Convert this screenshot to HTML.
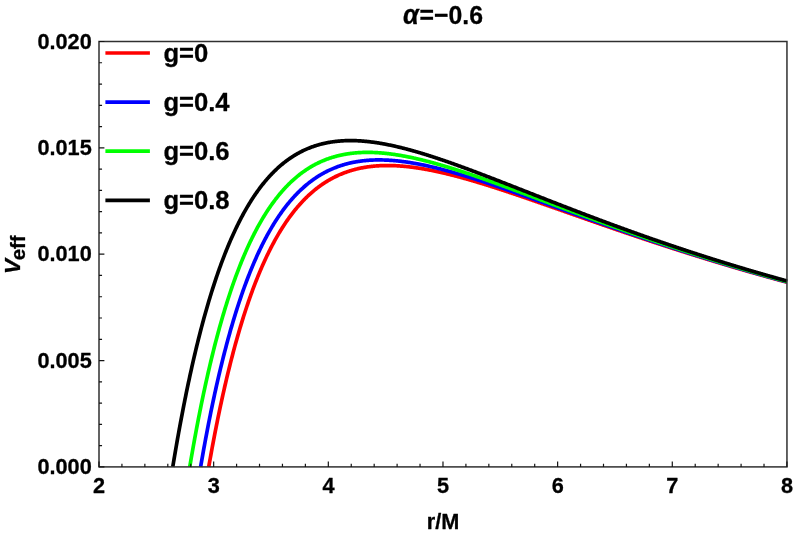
<!DOCTYPE html>
<html><head><meta charset="utf-8"><title>Veff plot</title>
<style>html,body{margin:0;padding:0;background:#fff;}body{width:793px;height:534px;position:relative;overflow:hidden;font-family:"Liberation Sans",sans-serif;}</style>
</head><body>
<svg width="793" height="534" viewBox="0 0 793 534" style="position:absolute;left:0;top:0;will-change:transform">
<rect width="793" height="534" fill="#fff"/>
<g fill="none" stroke-width="3.7" stroke-linejoin="round" stroke-linecap="butt">
<path d="M208.73 466.90 L209.07 464.94 L209.65 461.70 L210.22 458.48 L210.79 455.30 L211.37 452.15 L211.94 449.03 L212.51 445.94 L213.09 442.88 L213.66 439.85 L214.23 436.85 L214.80 433.88 L215.38 430.93 L215.95 428.02 L216.52 425.13 L217.10 422.27 L217.67 419.44 L218.24 416.64 L218.82 413.86 L219.39 411.11 L219.96 408.39 L220.54 405.69 L221.11 403.02 L221.68 400.37 L222.26 397.75 L222.83 395.16 L223.40 392.59 L223.98 390.05 L224.55 387.53 L225.12 385.03 L225.70 382.56 L226.27 380.12 L226.84 377.69 L227.42 375.29 L227.99 372.92 L228.56 370.56 L229.14 368.23 L229.71 365.93 L230.28 363.64 L230.86 361.38 L231.43 359.14 L232.00 356.92 L232.58 354.72 L233.15 352.54 L233.72 350.39 L234.30 348.25 L234.87 346.14 L235.44 344.05 L236.02 341.98 L236.59 339.93 L237.16 337.89 L237.74 335.88 L238.31 333.89 L238.88 331.92 L239.46 329.96 L240.03 328.03 L240.60 326.11 L241.18 324.22 L241.75 322.34 L242.32 320.48 L242.90 318.64 L243.47 316.82 L244.04 315.01 L244.62 313.22 L245.19 311.45 L245.76 309.70 L246.34 307.97 L246.91 306.25 L247.48 304.55 L248.06 302.86 L248.63 301.20 L249.20 299.54 L249.78 297.91 L250.35 296.29 L250.92 294.69 L251.50 293.10 L252.07 291.53 L252.64 289.98 L253.22 288.44 L253.79 286.92 L254.36 285.41 L254.94 283.91 L255.51 282.43 L256.08 280.97 L256.66 279.52 L257.23 278.09 L257.80 276.67 L258.38 275.26 L258.95 273.87 L259.52 272.49 L260.09 271.13 L260.67 269.78 L261.24 268.44 L261.81 267.12 L262.39 265.81 L262.96 264.51 L263.53 263.23 L264.11 261.96 L264.68 260.70 L265.25 259.46 L265.83 258.23 L266.40 257.01 L266.97 255.80 L267.55 254.61 L268.12 253.43 L268.69 252.26 L269.27 251.10 L269.84 249.96 L270.41 248.82 L270.99 247.70 L271.56 246.59 L272.13 245.49 L272.71 244.41 L273.28 243.33 L273.85 242.27 L274.43 241.21 L275.00 240.17 L275.57 239.14 L276.15 238.12 L276.72 237.11 L277.29 236.11 L277.87 235.12 L278.44 234.14 L279.01 233.18 L279.59 232.22 L280.16 231.27 L280.73 230.33 L281.31 229.41 L281.88 228.49 L282.45 227.58 L283.03 226.69 L283.60 225.80 L284.17 224.92 L284.75 224.05 L285.32 223.19 L285.89 222.34 L286.47 221.50 L287.04 220.67 L287.61 219.85 L288.19 219.03 L288.76 218.23 L289.33 217.43 L289.91 216.65 L290.48 215.87 L291.05 215.10 L291.63 214.34 L292.20 213.59 L292.77 212.84 L293.35 212.11 L293.92 211.38 L294.49 210.66 L295.07 209.95 L295.64 209.25 L296.21 208.55 L296.79 207.86 L297.36 207.18 L297.93 206.51 L298.51 205.85 L299.08 205.19 L299.65 204.55 L300.23 203.90 L300.80 203.27 L301.37 202.65 L301.95 202.03 L302.52 201.42 L303.09 200.81 L303.67 200.21 L304.24 199.62 L304.81 199.04 L305.38 198.47 L305.96 197.90 L306.53 197.33 L307.10 196.78 L307.68 196.23 L308.25 195.69 L308.82 195.15 L309.40 194.62 L309.97 194.10 L310.54 193.59 L311.12 193.08 L311.69 192.57 L312.26 192.08 L312.84 191.58 L313.41 191.10 L313.98 190.62 L314.56 190.15 L315.13 189.68 L315.70 189.22 L316.28 188.77 L316.85 188.32 L317.42 187.88 L318.00 187.44 L318.57 187.01 L319.14 186.58 L319.72 186.16 L320.29 185.75 L320.86 185.34 L321.44 184.94 L322.01 184.54 L322.58 184.15 L323.16 183.76 L323.73 183.38 L324.30 183.00 L324.88 182.63 L325.45 182.26 L326.02 181.90 L326.60 181.55 L327.17 181.20 L327.74 180.85 L328.32 180.51 L328.89 180.17 L329.46 179.84 L330.04 179.52 L330.61 179.19 L331.18 178.88 L331.76 178.57 L332.33 178.26 L332.90 177.96 L333.48 177.66 L334.05 177.36 L334.62 177.07 L335.20 176.79 L335.77 176.51 L336.34 176.23 L336.92 175.96 L337.49 175.70 L338.06 175.43 L338.64 175.17 L339.21 174.92 L339.78 174.67 L340.36 174.42 L340.93 174.18 L341.50 173.94 L342.08 173.71 L342.65 173.48 L343.22 173.25 L343.80 173.03 L344.37 172.81 L344.94 172.60 L345.52 172.39 L346.09 172.18 L346.66 171.98 L347.24 171.78 L347.81 171.59 L348.38 171.40 L348.96 171.21 L349.53 171.02 L350.10 170.84 L350.68 170.67 L351.25 170.49 L351.82 170.32 L352.39 170.16 L352.97 169.99 L353.54 169.83 L354.11 169.68 L354.69 169.52 L355.26 169.37 L355.83 169.23 L356.41 169.08 L356.98 168.94 L357.55 168.81 L358.13 168.67 L358.70 168.54 L359.27 168.42 L359.85 168.29 L360.42 168.17 L360.99 168.05 L361.57 167.94 L362.14 167.83 L362.71 167.72 L363.29 167.61 L363.86 167.51 L364.43 167.41 L365.01 167.31 L365.58 167.22 L366.15 167.13 L366.73 167.04 L367.30 166.95 L367.87 166.87 L368.45 166.79 L369.02 166.71 L369.59 166.64 L370.17 166.56 L370.74 166.50 L371.31 166.43 L371.89 166.36 L372.46 166.30 L373.03 166.24 L373.61 166.19 L374.18 166.13 L374.75 166.08 L375.33 166.03 L375.90 165.98 L376.47 165.94 L377.05 165.90 L377.62 165.86 L378.19 165.82 L378.77 165.79 L379.34 165.75 L379.91 165.72 L380.49 165.70 L381.06 165.67 L381.63 165.65 L382.21 165.63 L382.78 165.61 L383.35 165.59 L383.93 165.58 L384.50 165.56 L385.07 165.55 L385.65 165.55 L386.22 165.54 L386.79 165.54 L387.37 165.54 L387.94 165.54 L388.51 165.54 L389.09 165.54 L389.66 165.55 L390.23 165.56 L390.81 165.57 L391.38 165.58 L391.95 165.59 L392.53 165.61 L393.10 165.63 L393.67 165.65 L394.25 165.67 L394.82 165.69 L395.39 165.72 L395.97 165.75 L396.54 165.77 L397.11 165.81 L397.68 165.84 L398.26 165.87 L398.83 165.91 L399.40 165.95 L399.98 165.99 L400.55 166.03 L401.12 166.07 L401.70 166.12 L402.27 166.16 L402.84 166.21 L403.42 166.26 L403.99 166.31 L404.56 166.36 L405.14 166.42 L405.71 166.47 L406.28 166.53 L406.86 166.59 L407.43 166.65 L408.00 166.71 L408.58 166.78 L409.15 166.84 L409.72 166.91 L410.30 166.97 L410.87 167.04 L411.44 167.11 L412.02 167.19 L412.59 167.26 L413.16 167.34 L413.74 167.41 L414.31 167.49 L414.88 167.57 L415.46 167.65 L416.03 167.73 L416.60 167.82 L417.18 167.90 L417.75 167.99 L418.32 168.07 L418.90 168.16 L419.47 168.25 L420.04 168.34 L420.62 168.43 L421.19 168.53 L421.76 168.62 L422.34 168.72 L422.91 168.81 L423.48 168.91 L424.06 169.01 L424.63 169.11 L425.20 169.21 L425.78 169.32 L426.35 169.42 L426.92 169.53 L427.50 169.63 L428.07 169.74 L428.64 169.85 L429.22 169.96 L429.79 170.07 L430.36 170.18 L430.94 170.29 L431.51 170.41 L432.08 170.52 L432.66 170.64 L433.23 170.76 L433.80 170.87 L434.38 170.99 L434.95 171.11 L435.52 171.23 L436.10 171.36 L436.67 171.48 L437.24 171.60 L437.82 171.73 L438.39 171.85 L438.96 171.98 L439.54 172.11 L440.11 172.23 L440.68 172.36 L441.26 172.49 L441.83 172.63 L442.40 172.76 L442.98 172.89 L443.55 173.02 L444.12 173.16 L444.69 173.29 L445.27 173.43 L445.84 173.57 L446.41 173.71 L446.99 173.84 L447.56 173.98 L448.13 174.12 L448.71 174.27 L449.28 174.41 L449.85 174.55 L450.43 174.69 L451.00 174.84 L451.57 174.98 L452.15 175.13 L452.72 175.28 L453.29 175.42 L453.87 175.57 L454.44 175.72 L455.01 175.87 L455.59 176.02 L456.16 176.17 L456.73 176.32 L457.31 176.47 L457.88 176.63 L458.45 176.78 L459.03 176.93 L459.60 177.09 L460.17 177.24 L460.75 177.40 L461.32 177.56 L461.89 177.71 L462.47 177.87 L463.04 178.03 L463.61 178.19 L464.19 178.35 L464.76 178.51 L465.33 178.67 L465.91 178.83 L466.48 178.99 L467.05 179.16 L467.63 179.32 L468.20 179.48 L468.77 179.65 L469.35 179.81 L469.92 179.98 L470.49 180.15 L471.07 180.31 L471.64 180.48 L472.21 180.65 L472.79 180.81 L473.36 180.98 L473.93 181.15 L474.51 181.32 L475.08 181.49 L475.65 181.66 L476.23 181.83 L476.80 182.01 L477.37 182.18 L477.95 182.35 L478.52 182.52 L479.09 182.70 L479.67 182.87 L480.24 183.05 L480.81 183.22 L481.39 183.40 L481.96 183.57 L482.53 183.75 L483.11 183.92 L483.68 184.10 L484.25 184.28 L484.83 184.46 L485.40 184.63 L485.97 184.81 L486.55 184.99 L487.12 185.17 L487.69 185.35 L488.27 185.53 L488.84 185.71 L489.41 185.89 L489.98 186.07 L490.56 186.26 L491.13 186.44 L491.70 186.62 L492.28 186.80 L492.85 186.99 L493.42 187.17 L494.00 187.35 L494.57 187.54 L495.14 187.72 L495.72 187.91 L496.29 188.09 L496.86 188.28 L497.44 188.46 L498.01 188.65 L498.58 188.83 L499.16 189.02 L499.73 189.21 L500.30 189.40 L500.88 189.58 L501.45 189.77 L502.02 189.96 L502.60 190.15 L503.17 190.34 L503.74 190.52 L504.32 190.71 L504.89 190.90 L505.46 191.09 L506.04 191.28 L506.61 191.47 L507.18 191.66 L507.76 191.85 L508.33 192.04 L508.90 192.24 L509.48 192.43 L510.05 192.62 L510.62 192.81 L511.20 193.00 L511.77 193.20 L512.34 193.39 L512.92 193.58 L513.49 193.77 L514.06 193.97 L514.64 194.16 L515.21 194.35 L515.78 194.55 L516.36 194.74 L516.93 194.94 L517.50 195.13 L518.08 195.32 L518.65 195.52 L519.22 195.71 L519.80 195.91 L520.37 196.11 L520.94 196.30 L521.52 196.50 L522.09 196.69 L522.66 196.89 L523.24 197.08 L523.81 197.28 L524.38 197.48 L524.96 197.67 L525.53 197.87 L526.10 198.07 L526.68 198.26 L527.25 198.46 L527.82 198.66 L528.40 198.86 L528.97 199.05 L529.54 199.25 L530.12 199.45 L530.69 199.65 L531.26 199.85 L531.84 200.04 L532.41 200.24 L532.98 200.44 L533.56 200.64 L534.13 200.84 L534.70 201.04 L535.27 201.24 L535.85 201.44 L536.42 201.63 L536.99 201.83 L537.57 202.03 L538.14 202.23 L538.71 202.43 L539.29 202.63 L539.86 202.83 L540.43 203.03 L541.01 203.23 L541.58 203.43 L542.15 203.63 L542.73 203.83 L543.30 204.03 L543.87 204.23 L544.45 204.43 L545.02 204.63 L545.59 204.83 L546.17 205.03 L546.74 205.23 L547.31 205.43 L547.89 205.64 L548.46 205.84 L549.03 206.04 L549.61 206.24 L550.18 206.44 L550.75 206.64 L551.33 206.84 L551.90 207.04 L552.47 207.24 L553.05 207.44 L553.62 207.65 L554.19 207.85 L554.77 208.05 L555.34 208.25 L555.91 208.45 L556.49 208.65 L557.06 208.85 L557.63 209.06 L558.21 209.26 L558.78 209.46 L559.35 209.66 L559.93 209.86 L560.50 210.06 L561.07 210.26 L561.65 210.47 L562.22 210.67 L562.79 210.87 L563.37 211.07 L563.94 211.27 L564.51 211.47 L565.09 211.68 L565.66 211.88 L566.23 212.08 L566.81 212.28 L567.38 212.48 L567.95 212.68 L568.53 212.89 L569.10 213.09 L569.67 213.29 L570.25 213.49 L570.82 213.69 L571.39 213.89 L571.97 214.10 L572.54 214.30 L573.11 214.50 L573.69 214.70 L574.26 214.90 L574.83 215.10 L575.41 215.31 L575.98 215.51 L576.55 215.71 L577.13 215.91 L577.70 216.11 L578.27 216.31 L578.85 216.51 L579.42 216.72 L579.99 216.92 L580.57 217.12 L581.14 217.32 L581.71 217.52 L582.28 217.72 L582.86 217.92 L583.43 218.12 L584.00 218.33 L584.58 218.53 L585.15 218.73 L585.72 218.93 L586.30 219.13 L586.87 219.33 L587.44 219.53 L588.02 219.73 L588.59 219.93 L589.16 220.13 L589.74 220.33 L590.31 220.53 L590.88 220.73 L591.46 220.93 L592.03 221.14 L592.60 221.34 L593.18 221.54 L593.75 221.74 L594.32 221.94 L594.90 222.14 L595.47 222.34 L596.04 222.54 L596.62 222.74 L597.19 222.94 L597.76 223.14 L598.34 223.34 L598.91 223.53 L599.48 223.73 L600.06 223.93 L600.63 224.13 L601.20 224.33 L601.78 224.53 L602.35 224.73 L602.92 224.93 L603.50 225.13 L604.07 225.33 L604.64 225.53 L605.22 225.73 L605.79 225.92 L606.36 226.12 L606.94 226.32 L607.51 226.52 L608.08 226.72 L608.66 226.92 L609.23 227.12 L609.80 227.31 L610.38 227.51 L610.95 227.71 L611.52 227.91 L612.10 228.10 L612.67 228.30 L613.24 228.50 L613.82 228.70 L614.39 228.90 L614.96 229.09 L615.54 229.29 L616.11 229.49 L616.68 229.68 L617.26 229.88 L617.83 230.08 L618.40 230.27 L618.98 230.47 L619.55 230.67 L620.12 230.86 L620.70 231.06 L621.27 231.26 L621.84 231.45 L622.42 231.65 L622.99 231.84 L623.56 232.04 L624.14 232.24 L624.71 232.43 L625.28 232.63 L625.86 232.82 L626.43 233.02 L627.00 233.21 L627.57 233.41 L628.15 233.60 L628.72 233.80 L629.29 233.99 L629.87 234.19 L630.44 234.38 L631.01 234.58 L631.59 234.77 L632.16 234.97 L632.73 235.16 L633.31 235.35 L633.88 235.55 L634.45 235.74 L635.03 235.93 L635.60 236.13 L636.17 236.32 L636.75 236.51 L637.32 236.71 L637.89 236.90 L638.47 237.09 L639.04 237.29 L639.61 237.48 L640.19 237.67 L640.76 237.86 L641.33 238.06 L641.91 238.25 L642.48 238.44 L643.05 238.63 L643.63 238.82 L644.20 239.02 L644.77 239.21 L645.35 239.40 L645.92 239.59 L646.49 239.78 L647.07 239.97 L647.64 240.16 L648.21 240.36 L648.79 240.55 L649.36 240.74 L649.93 240.93 L650.51 241.12 L651.08 241.31 L651.65 241.50 L652.23 241.69 L652.80 241.88 L653.37 242.07 L653.95 242.26 L654.52 242.45 L655.09 242.63 L655.67 242.82 L656.24 243.01 L656.81 243.20 L657.39 243.39 L657.96 243.58 L658.53 243.77 L659.11 243.96 L659.68 244.14 L660.25 244.33 L660.83 244.52 L661.40 244.71 L661.97 244.90 L662.55 245.08 L663.12 245.27 L663.69 245.46 L664.27 245.64 L664.84 245.83 L665.41 246.02 L665.99 246.21 L666.56 246.39 L667.13 246.58 L667.71 246.76 L668.28 246.95 L668.85 247.14 L669.43 247.32 L670.00 247.51 L670.57 247.69 L671.15 247.88 L671.72 248.06 L672.29 248.25 L672.86 248.43 L673.44 248.62 L674.01 248.80 L674.58 248.99 L675.16 249.17 L675.73 249.36 L676.30 249.54 L676.88 249.73 L677.45 249.91 L678.02 250.09 L678.60 250.28 L679.17 250.46 L679.74 250.64 L680.32 250.83 L680.89 251.01 L681.46 251.19 L682.04 251.37 L682.61 251.56 L683.18 251.74 L683.76 251.92 L684.33 252.10 L684.90 252.29 L685.48 252.47 L686.05 252.65 L686.62 252.83 L687.20 253.01 L687.77 253.19 L688.34 253.37 L688.92 253.55 L689.49 253.74 L690.06 253.92 L690.64 254.10 L691.21 254.28 L691.78 254.46 L692.36 254.64 L692.93 254.82 L693.50 255.00 L694.08 255.18 L694.65 255.36 L695.22 255.53 L695.80 255.71 L696.37 255.89 L696.94 256.07 L697.52 256.25 L698.09 256.43 L698.66 256.61 L699.24 256.79 L699.81 256.96 L700.38 257.14 L700.96 257.32 L701.53 257.50 L702.10 257.67 L702.68 257.85 L703.25 258.03 L703.82 258.21 L704.40 258.38 L704.97 258.56 L705.54 258.74 L706.12 258.91 L706.69 259.09 L707.26 259.26 L707.84 259.44 L708.41 259.62 L708.98 259.79 L709.56 259.97 L710.13 260.14 L710.70 260.32 L711.28 260.49 L711.85 260.67 L712.42 260.84 L713.00 261.02 L713.57 261.19 L714.14 261.36 L714.72 261.54 L715.29 261.71 L715.86 261.89 L716.44 262.06 L717.01 262.23 L717.58 262.41 L718.16 262.58 L718.73 262.75 L719.30 262.92 L719.87 263.10 L720.45 263.27 L721.02 263.44 L721.59 263.61 L722.17 263.79 L722.74 263.96 L723.31 264.13 L723.89 264.30 L724.46 264.47 L725.03 264.64 L725.61 264.81 L726.18 264.99 L726.75 265.16 L727.33 265.33 L727.90 265.50 L728.47 265.67 L729.05 265.84 L729.62 266.01 L730.19 266.18 L730.77 266.35 L731.34 266.52 L731.91 266.69 L732.49 266.85 L733.06 267.02 L733.63 267.19 L734.21 267.36 L734.78 267.53 L735.35 267.70 L735.93 267.87 L736.50 268.03 L737.07 268.20 L737.65 268.37 L738.22 268.54 L738.79 268.70 L739.37 268.87 L739.94 269.04 L740.51 269.21 L741.09 269.37 L741.66 269.54 L742.23 269.71 L742.81 269.87 L743.38 270.04 L743.95 270.20 L744.53 270.37 L745.10 270.54 L745.67 270.70 L746.25 270.87 L746.82 271.03 L747.39 271.20 L747.97 271.36 L748.54 271.53 L749.11 271.69 L749.69 271.86 L750.26 272.02 L750.83 272.18 L751.41 272.35 L751.98 272.51 L752.55 272.68 L753.13 272.84 L753.70 273.00 L754.27 273.17 L754.85 273.33 L755.42 273.49 L755.99 273.65 L756.57 273.82 L757.14 273.98 L757.71 274.14 L758.29 274.30 L758.86 274.47 L759.43 274.63 L760.01 274.79 L760.58 274.95 L761.15 275.11 L761.73 275.27 L762.30 275.43 L762.87 275.59 L763.45 275.75 L764.02 275.92 L764.59 276.08 L765.16 276.24 L765.74 276.40 L766.31 276.56 L766.88 276.72 L767.46 276.88 L768.03 277.03 L768.60 277.19 L769.18 277.35 L769.75 277.51 L770.32 277.67 L770.90 277.83 L771.47 277.99 L772.04 278.15 L772.62 278.30 L773.19 278.46 L773.76 278.62 L774.34 278.78 L774.91 278.93 L775.48 279.09 L776.06 279.25 L776.63 279.41 L777.20 279.56 L777.78 279.72 L778.35 279.88 L778.92 280.03 L779.50 280.19 L780.07 280.35 L780.64 280.50 L781.22 280.66 L781.79 280.81 L782.36 280.97 L782.94 281.12 L783.51 281.28 L784.08 281.43 L784.66 281.59 L785.23 281.74 L785.80 281.90 L786.38 282.05 L786.95 282.21" stroke="#ff0000"/>
<path d="M200.61 466.90 L201.05 464.37 L201.62 461.07 L202.19 457.81 L202.77 454.58 L203.34 451.38 L203.91 448.20 L204.49 445.07 L205.06 441.96 L205.63 438.88 L206.21 435.83 L206.78 432.81 L207.35 429.81 L207.93 426.85 L208.50 423.92 L209.07 421.01 L209.65 418.13 L210.22 415.28 L210.79 412.46 L211.37 409.67 L211.94 406.90 L212.51 404.15 L213.09 401.44 L213.66 398.75 L214.23 396.09 L214.80 393.45 L215.38 390.84 L215.95 388.25 L216.52 385.69 L217.10 383.15 L217.67 380.64 L218.24 378.15 L218.82 375.68 L219.39 373.24 L219.96 370.83 L220.54 368.43 L221.11 366.06 L221.68 363.71 L222.26 361.39 L222.83 359.09 L223.40 356.81 L223.98 354.55 L224.55 352.31 L225.12 350.10 L225.70 347.91 L226.27 345.74 L226.84 343.59 L227.42 341.46 L227.99 339.35 L228.56 337.26 L229.14 335.19 L229.71 333.14 L230.28 331.12 L230.86 329.11 L231.43 327.12 L232.00 325.15 L232.58 323.20 L233.15 321.27 L233.72 319.36 L234.30 317.47 L234.87 315.59 L235.44 313.74 L236.02 311.90 L236.59 310.08 L237.16 308.28 L237.74 306.50 L238.31 304.73 L238.88 302.98 L239.46 301.25 L240.03 299.54 L240.60 297.84 L241.18 296.16 L241.75 294.49 L242.32 292.85 L242.90 291.21 L243.47 289.60 L244.04 288.00 L244.62 286.42 L245.19 284.85 L245.76 283.30 L246.34 281.76 L246.91 280.24 L247.48 278.74 L248.06 277.25 L248.63 275.77 L249.20 274.31 L249.78 272.86 L250.35 271.43 L250.92 270.01 L251.50 268.61 L252.07 267.22 L252.64 265.85 L253.22 264.49 L253.79 263.14 L254.36 261.81 L254.94 260.49 L255.51 259.18 L256.08 257.89 L256.66 256.61 L257.23 255.34 L257.80 254.09 L258.38 252.85 L258.95 251.62 L259.52 250.40 L260.09 249.20 L260.67 248.01 L261.24 246.83 L261.81 245.67 L262.39 244.51 L262.96 243.37 L263.53 242.24 L264.11 241.12 L264.68 240.01 L265.25 238.92 L265.83 237.83 L266.40 236.76 L266.97 235.70 L267.55 234.65 L268.12 233.61 L268.69 232.58 L269.27 231.56 L269.84 230.56 L270.41 229.56 L270.99 228.58 L271.56 227.60 L272.13 226.64 L272.71 225.68 L273.28 224.74 L273.85 223.81 L274.43 222.88 L275.00 221.97 L275.57 221.06 L276.15 220.17 L276.72 219.29 L277.29 218.41 L277.87 217.54 L278.44 216.69 L279.01 215.84 L279.59 215.01 L280.16 214.18 L280.73 213.36 L281.31 212.55 L281.88 211.75 L282.45 210.96 L283.03 210.17 L283.60 209.40 L284.17 208.63 L284.75 207.87 L285.32 207.13 L285.89 206.39 L286.47 205.65 L287.04 204.93 L287.61 204.21 L288.19 203.51 L288.76 202.81 L289.33 202.12 L289.91 201.43 L290.48 200.76 L291.05 200.09 L291.63 199.43 L292.20 198.78 L292.77 198.13 L293.35 197.50 L293.92 196.87 L294.49 196.25 L295.07 195.63 L295.64 195.02 L296.21 194.42 L296.79 193.83 L297.36 193.25 L297.93 192.67 L298.51 192.09 L299.08 191.53 L299.65 190.97 L300.23 190.42 L300.80 189.88 L301.37 189.34 L301.95 188.81 L302.52 188.28 L303.09 187.76 L303.67 187.25 L304.24 186.75 L304.81 186.25 L305.38 185.76 L305.96 185.27 L306.53 184.79 L307.10 184.32 L307.68 183.85 L308.25 183.39 L308.82 182.93 L309.40 182.48 L309.97 182.04 L310.54 181.60 L311.12 181.17 L311.69 180.74 L312.26 180.32 L312.84 179.90 L313.41 179.49 L313.98 179.09 L314.56 178.69 L315.13 178.30 L315.70 177.91 L316.28 177.53 L316.85 177.15 L317.42 176.78 L318.00 176.41 L318.57 176.05 L319.14 175.70 L319.72 175.34 L320.29 175.00 L320.86 174.66 L321.44 174.32 L322.01 173.99 L322.58 173.66 L323.16 173.34 L323.73 173.03 L324.30 172.72 L324.88 172.41 L325.45 172.11 L326.02 171.81 L326.60 171.51 L327.17 171.23 L327.74 170.94 L328.32 170.66 L328.89 170.39 L329.46 170.12 L330.04 169.85 L330.61 169.59 L331.18 169.33 L331.76 169.08 L332.33 168.83 L332.90 168.58 L333.48 168.34 L334.05 168.11 L334.62 167.87 L335.20 167.65 L335.77 167.42 L336.34 167.20 L336.92 166.98 L337.49 166.77 L338.06 166.56 L338.64 166.36 L339.21 166.16 L339.78 165.96 L340.36 165.77 L340.93 165.58 L341.50 165.39 L342.08 165.21 L342.65 165.03 L343.22 164.86 L343.80 164.68 L344.37 164.52 L344.94 164.35 L345.52 164.19 L346.09 164.03 L346.66 163.88 L347.24 163.73 L347.81 163.58 L348.38 163.44 L348.96 163.30 L349.53 163.16 L350.10 163.03 L350.68 162.90 L351.25 162.77 L351.82 162.64 L352.39 162.52 L352.97 162.40 L353.54 162.29 L354.11 162.18 L354.69 162.07 L355.26 161.96 L355.83 161.86 L356.41 161.76 L356.98 161.66 L357.55 161.57 L358.13 161.48 L358.70 161.39 L359.27 161.30 L359.85 161.22 L360.42 161.14 L360.99 161.06 L361.57 160.99 L362.14 160.92 L362.71 160.85 L363.29 160.78 L363.86 160.72 L364.43 160.66 L365.01 160.60 L365.58 160.54 L366.15 160.49 L366.73 160.44 L367.30 160.39 L367.87 160.35 L368.45 160.30 L369.02 160.26 L369.59 160.22 L370.17 160.19 L370.74 160.16 L371.31 160.12 L371.89 160.10 L372.46 160.07 L373.03 160.05 L373.61 160.02 L374.18 160.00 L374.75 159.99 L375.33 159.97 L375.90 159.96 L376.47 159.95 L377.05 159.94 L377.62 159.94 L378.19 159.93 L378.77 159.93 L379.34 159.93 L379.91 159.93 L380.49 159.94 L381.06 159.94 L381.63 159.95 L382.21 159.96 L382.78 159.98 L383.35 159.99 L383.93 160.01 L384.50 160.03 L385.07 160.05 L385.65 160.07 L386.22 160.09 L386.79 160.12 L387.37 160.15 L387.94 160.18 L388.51 160.21 L389.09 160.24 L389.66 160.28 L390.23 160.31 L390.81 160.35 L391.38 160.39 L391.95 160.44 L392.53 160.48 L393.10 160.53 L393.67 160.57 L394.25 160.62 L394.82 160.67 L395.39 160.73 L395.97 160.78 L396.54 160.84 L397.11 160.90 L397.68 160.95 L398.26 161.01 L398.83 161.08 L399.40 161.14 L399.98 161.21 L400.55 161.27 L401.12 161.34 L401.70 161.41 L402.27 161.48 L402.84 161.56 L403.42 161.63 L403.99 161.71 L404.56 161.78 L405.14 161.86 L405.71 161.94 L406.28 162.02 L406.86 162.11 L407.43 162.19 L408.00 162.28 L408.58 162.36 L409.15 162.45 L409.72 162.54 L410.30 162.63 L410.87 162.72 L411.44 162.82 L412.02 162.91 L412.59 163.01 L413.16 163.11 L413.74 163.21 L414.31 163.31 L414.88 163.41 L415.46 163.51 L416.03 163.61 L416.60 163.72 L417.18 163.82 L417.75 163.93 L418.32 164.04 L418.90 164.15 L419.47 164.26 L420.04 164.37 L420.62 164.48 L421.19 164.60 L421.76 164.71 L422.34 164.83 L422.91 164.94 L423.48 165.06 L424.06 165.18 L424.63 165.30 L425.20 165.42 L425.78 165.55 L426.35 165.67 L426.92 165.79 L427.50 165.92 L428.07 166.04 L428.64 166.17 L429.22 166.30 L429.79 166.43 L430.36 166.56 L430.94 166.69 L431.51 166.82 L432.08 166.96 L432.66 167.09 L433.23 167.23 L433.80 167.36 L434.38 167.50 L434.95 167.64 L435.52 167.77 L436.10 167.91 L436.67 168.05 L437.24 168.19 L437.82 168.34 L438.39 168.48 L438.96 168.62 L439.54 168.77 L440.11 168.91 L440.68 169.06 L441.26 169.20 L441.83 169.35 L442.40 169.50 L442.98 169.65 L443.55 169.80 L444.12 169.95 L444.69 170.10 L445.27 170.25 L445.84 170.41 L446.41 170.56 L446.99 170.71 L447.56 170.87 L448.13 171.02 L448.71 171.18 L449.28 171.34 L449.85 171.50 L450.43 171.65 L451.00 171.81 L451.57 171.97 L452.15 172.13 L452.72 172.30 L453.29 172.46 L453.87 172.62 L454.44 172.78 L455.01 172.95 L455.59 173.11 L456.16 173.28 L456.73 173.44 L457.31 173.61 L457.88 173.77 L458.45 173.94 L459.03 174.11 L459.60 174.28 L460.17 174.45 L460.75 174.62 L461.32 174.79 L461.89 174.96 L462.47 175.13 L463.04 175.30 L463.61 175.47 L464.19 175.64 L464.76 175.82 L465.33 175.99 L465.91 176.17 L466.48 176.34 L467.05 176.52 L467.63 176.69 L468.20 176.87 L468.77 177.05 L469.35 177.22 L469.92 177.40 L470.49 177.58 L471.07 177.76 L471.64 177.94 L472.21 178.12 L472.79 178.30 L473.36 178.48 L473.93 178.66 L474.51 178.84 L475.08 179.02 L475.65 179.20 L476.23 179.39 L476.80 179.57 L477.37 179.75 L477.95 179.94 L478.52 180.12 L479.09 180.31 L479.67 180.49 L480.24 180.68 L480.81 180.86 L481.39 181.05 L481.96 181.24 L482.53 181.42 L483.11 181.61 L483.68 181.80 L484.25 181.99 L484.83 182.17 L485.40 182.36 L485.97 182.55 L486.55 182.74 L487.12 182.93 L487.69 183.12 L488.27 183.31 L488.84 183.50 L489.41 183.69 L489.98 183.89 L490.56 184.08 L491.13 184.27 L491.70 184.46 L492.28 184.65 L492.85 184.85 L493.42 185.04 L494.00 185.23 L494.57 185.43 L495.14 185.62 L495.72 185.82 L496.29 186.01 L496.86 186.21 L497.44 186.40 L498.01 186.60 L498.58 186.79 L499.16 186.99 L499.73 187.18 L500.30 187.38 L500.88 187.58 L501.45 187.77 L502.02 187.97 L502.60 188.17 L503.17 188.37 L503.74 188.56 L504.32 188.76 L504.89 188.96 L505.46 189.16 L506.04 189.36 L506.61 189.56 L507.18 189.75 L507.76 189.95 L508.33 190.15 L508.90 190.35 L509.48 190.55 L510.05 190.75 L510.62 190.95 L511.20 191.15 L511.77 191.35 L512.34 191.55 L512.92 191.76 L513.49 191.96 L514.06 192.16 L514.64 192.36 L515.21 192.56 L515.78 192.76 L516.36 192.96 L516.93 193.17 L517.50 193.37 L518.08 193.57 L518.65 193.77 L519.22 193.98 L519.80 194.18 L520.37 194.38 L520.94 194.58 L521.52 194.79 L522.09 194.99 L522.66 195.19 L523.24 195.40 L523.81 195.60 L524.38 195.81 L524.96 196.01 L525.53 196.21 L526.10 196.42 L526.68 196.62 L527.25 196.83 L527.82 197.03 L528.40 197.23 L528.97 197.44 L529.54 197.64 L530.12 197.85 L530.69 198.05 L531.26 198.26 L531.84 198.46 L532.41 198.67 L532.98 198.87 L533.56 199.08 L534.13 199.29 L534.70 199.49 L535.27 199.70 L535.85 199.90 L536.42 200.11 L536.99 200.31 L537.57 200.52 L538.14 200.73 L538.71 200.93 L539.29 201.14 L539.86 201.34 L540.43 201.55 L541.01 201.76 L541.58 201.96 L542.15 202.17 L542.73 202.37 L543.30 202.58 L543.87 202.79 L544.45 202.99 L545.02 203.20 L545.59 203.41 L546.17 203.61 L546.74 203.82 L547.31 204.03 L547.89 204.23 L548.46 204.44 L549.03 204.65 L549.61 204.85 L550.18 205.06 L550.75 205.27 L551.33 205.47 L551.90 205.68 L552.47 205.89 L553.05 206.09 L553.62 206.30 L554.19 206.51 L554.77 206.72 L555.34 206.92 L555.91 207.13 L556.49 207.34 L557.06 207.54 L557.63 207.75 L558.21 207.96 L558.78 208.16 L559.35 208.37 L559.93 208.58 L560.50 208.78 L561.07 208.99 L561.65 209.20 L562.22 209.40 L562.79 209.61 L563.37 209.82 L563.94 210.03 L564.51 210.23 L565.09 210.44 L565.66 210.65 L566.23 210.85 L566.81 211.06 L567.38 211.27 L567.95 211.47 L568.53 211.68 L569.10 211.89 L569.67 212.09 L570.25 212.30 L570.82 212.51 L571.39 212.71 L571.97 212.92 L572.54 213.12 L573.11 213.33 L573.69 213.54 L574.26 213.74 L574.83 213.95 L575.41 214.16 L575.98 214.36 L576.55 214.57 L577.13 214.77 L577.70 214.98 L578.27 215.19 L578.85 215.39 L579.42 215.60 L579.99 215.80 L580.57 216.01 L581.14 216.22 L581.71 216.42 L582.28 216.63 L582.86 216.83 L583.43 217.04 L584.00 217.24 L584.58 217.45 L585.15 217.65 L585.72 217.86 L586.30 218.06 L586.87 218.27 L587.44 218.47 L588.02 218.68 L588.59 218.88 L589.16 219.09 L589.74 219.29 L590.31 219.50 L590.88 219.70 L591.46 219.91 L592.03 220.11 L592.60 220.32 L593.18 220.52 L593.75 220.72 L594.32 220.93 L594.90 221.13 L595.47 221.34 L596.04 221.54 L596.62 221.74 L597.19 221.95 L597.76 222.15 L598.34 222.36 L598.91 222.56 L599.48 222.76 L600.06 222.97 L600.63 223.17 L601.20 223.37 L601.78 223.57 L602.35 223.78 L602.92 223.98 L603.50 224.18 L604.07 224.39 L604.64 224.59 L605.22 224.79 L605.79 224.99 L606.36 225.20 L606.94 225.40 L607.51 225.60 L608.08 225.80 L608.66 226.00 L609.23 226.20 L609.80 226.41 L610.38 226.61 L610.95 226.81 L611.52 227.01 L612.10 227.21 L612.67 227.41 L613.24 227.61 L613.82 227.82 L614.39 228.02 L614.96 228.22 L615.54 228.42 L616.11 228.62 L616.68 228.82 L617.26 229.02 L617.83 229.22 L618.40 229.42 L618.98 229.62 L619.55 229.82 L620.12 230.02 L620.70 230.22 L621.27 230.42 L621.84 230.62 L622.42 230.82 L622.99 231.01 L623.56 231.21 L624.14 231.41 L624.71 231.61 L625.28 231.81 L625.86 232.01 L626.43 232.21 L627.00 232.41 L627.57 232.60 L628.15 232.80 L628.72 233.00 L629.29 233.20 L629.87 233.39 L630.44 233.59 L631.01 233.79 L631.59 233.99 L632.16 234.18 L632.73 234.38 L633.31 234.58 L633.88 234.77 L634.45 234.97 L635.03 235.17 L635.60 235.36 L636.17 235.56 L636.75 235.76 L637.32 235.95 L637.89 236.15 L638.47 236.34 L639.04 236.54 L639.61 236.74 L640.19 236.93 L640.76 237.13 L641.33 237.32 L641.91 237.52 L642.48 237.71 L643.05 237.91 L643.63 238.10 L644.20 238.29 L644.77 238.49 L645.35 238.68 L645.92 238.88 L646.49 239.07 L647.07 239.26 L647.64 239.46 L648.21 239.65 L648.79 239.84 L649.36 240.04 L649.93 240.23 L650.51 240.42 L651.08 240.62 L651.65 240.81 L652.23 241.00 L652.80 241.19 L653.37 241.39 L653.95 241.58 L654.52 241.77 L655.09 241.96 L655.67 242.15 L656.24 242.34 L656.81 242.54 L657.39 242.73 L657.96 242.92 L658.53 243.11 L659.11 243.30 L659.68 243.49 L660.25 243.68 L660.83 243.87 L661.40 244.06 L661.97 244.25 L662.55 244.44 L663.12 244.63 L663.69 244.82 L664.27 245.01 L664.84 245.20 L665.41 245.39 L665.99 245.58 L666.56 245.76 L667.13 245.95 L667.71 246.14 L668.28 246.33 L668.85 246.52 L669.43 246.71 L670.00 246.89 L670.57 247.08 L671.15 247.27 L671.72 247.46 L672.29 247.64 L672.86 247.83 L673.44 248.02 L674.01 248.21 L674.58 248.39 L675.16 248.58 L675.73 248.76 L676.30 248.95 L676.88 249.14 L677.45 249.32 L678.02 249.51 L678.60 249.69 L679.17 249.88 L679.74 250.07 L680.32 250.25 L680.89 250.44 L681.46 250.62 L682.04 250.80 L682.61 250.99 L683.18 251.17 L683.76 251.36 L684.33 251.54 L684.90 251.73 L685.48 251.91 L686.05 252.09 L686.62 252.28 L687.20 252.46 L687.77 252.64 L688.34 252.83 L688.92 253.01 L689.49 253.19 L690.06 253.37 L690.64 253.56 L691.21 253.74 L691.78 253.92 L692.36 254.10 L692.93 254.28 L693.50 254.47 L694.08 254.65 L694.65 254.83 L695.22 255.01 L695.80 255.19 L696.37 255.37 L696.94 255.55 L697.52 255.73 L698.09 255.91 L698.66 256.09 L699.24 256.27 L699.81 256.45 L700.38 256.63 L700.96 256.81 L701.53 256.99 L702.10 257.17 L702.68 257.35 L703.25 257.53 L703.82 257.71 L704.40 257.88 L704.97 258.06 L705.54 258.24 L706.12 258.42 L706.69 258.60 L707.26 258.77 L707.84 258.95 L708.41 259.13 L708.98 259.31 L709.56 259.48 L710.13 259.66 L710.70 259.84 L711.28 260.01 L711.85 260.19 L712.42 260.37 L713.00 260.54 L713.57 260.72 L714.14 260.89 L714.72 261.07 L715.29 261.25 L715.86 261.42 L716.44 261.60 L717.01 261.77 L717.58 261.95 L718.16 262.12 L718.73 262.29 L719.30 262.47 L719.87 262.64 L720.45 262.82 L721.02 262.99 L721.59 263.16 L722.17 263.34 L722.74 263.51 L723.31 263.68 L723.89 263.86 L724.46 264.03 L725.03 264.20 L725.61 264.38 L726.18 264.55 L726.75 264.72 L727.33 264.89 L727.90 265.06 L728.47 265.24 L729.05 265.41 L729.62 265.58 L730.19 265.75 L730.77 265.92 L731.34 266.09 L731.91 266.26 L732.49 266.43 L733.06 266.60 L733.63 266.77 L734.21 266.94 L734.78 267.11 L735.35 267.28 L735.93 267.45 L736.50 267.62 L737.07 267.79 L737.65 267.96 L738.22 268.13 L738.79 268.30 L739.37 268.47 L739.94 268.64 L740.51 268.80 L741.09 268.97 L741.66 269.14 L742.23 269.31 L742.81 269.48 L743.38 269.64 L743.95 269.81 L744.53 269.98 L745.10 270.14 L745.67 270.31 L746.25 270.48 L746.82 270.64 L747.39 270.81 L747.97 270.98 L748.54 271.14 L749.11 271.31 L749.69 271.47 L750.26 271.64 L750.83 271.80 L751.41 271.97 L751.98 272.13 L752.55 272.30 L753.13 272.46 L753.70 272.63 L754.27 272.79 L754.85 272.96 L755.42 273.12 L755.99 273.29 L756.57 273.45 L757.14 273.61 L757.71 273.78 L758.29 273.94 L758.86 274.10 L759.43 274.27 L760.01 274.43 L760.58 274.59 L761.15 274.75 L761.73 274.92 L762.30 275.08 L762.87 275.24 L763.45 275.40 L764.02 275.56 L764.59 275.72 L765.16 275.89 L765.74 276.05 L766.31 276.21 L766.88 276.37 L767.46 276.53 L768.03 276.69 L768.60 276.85 L769.18 277.01 L769.75 277.17 L770.32 277.33 L770.90 277.49 L771.47 277.65 L772.04 277.81 L772.62 277.97 L773.19 278.13 L773.76 278.29 L774.34 278.44 L774.91 278.60 L775.48 278.76 L776.06 278.92 L776.63 279.08 L777.20 279.24 L777.78 279.39 L778.35 279.55 L778.92 279.71 L779.50 279.87 L780.07 280.02 L780.64 280.18 L781.22 280.34 L781.79 280.49 L782.36 280.65 L782.94 280.81 L783.51 280.96 L784.08 281.12 L784.66 281.27 L785.23 281.43 L785.80 281.59 L786.38 281.74 L786.95 281.90" stroke="#0000ff"/>
<path d="M189.74 466.90 L190.15 464.47 L190.73 461.10 L191.30 457.77 L191.87 454.47 L192.45 451.20 L193.02 447.96 L193.59 444.75 L194.17 441.57 L194.74 438.42 L195.31 435.31 L195.89 432.22 L196.46 429.16 L197.03 426.13 L197.61 423.13 L198.18 420.16 L198.75 417.22 L199.33 414.30 L199.90 411.41 L200.47 408.55 L201.05 405.72 L201.62 402.92 L202.19 400.14 L202.77 397.39 L203.34 394.66 L203.91 391.96 L204.49 389.29 L205.06 386.64 L205.63 384.01 L206.21 381.42 L206.78 378.84 L207.35 376.30 L207.93 373.77 L208.50 371.27 L209.07 368.80 L209.65 366.35 L210.22 363.92 L210.79 361.51 L211.37 359.13 L211.94 356.77 L212.51 354.44 L213.09 352.12 L213.66 349.83 L214.23 347.56 L214.80 345.32 L215.38 343.09 L215.95 340.89 L216.52 338.70 L217.10 336.54 L217.67 334.40 L218.24 332.28 L218.82 330.18 L219.39 328.10 L219.96 326.04 L220.54 324.01 L221.11 321.99 L221.68 319.99 L222.26 318.01 L222.83 316.05 L223.40 314.11 L223.98 312.18 L224.55 310.28 L225.12 308.39 L225.70 306.53 L226.27 304.68 L226.84 302.85 L227.42 301.04 L227.99 299.24 L228.56 297.47 L229.14 295.71 L229.71 293.96 L230.28 292.24 L230.86 290.53 L231.43 288.84 L232.00 287.17 L232.58 285.51 L233.15 283.87 L233.72 282.24 L234.30 280.63 L234.87 279.04 L235.44 277.46 L236.02 275.90 L236.59 274.35 L237.16 272.82 L237.74 271.31 L238.31 269.81 L238.88 268.32 L239.46 266.85 L240.03 265.40 L240.60 263.96 L241.18 262.53 L241.75 261.12 L242.32 259.72 L242.90 258.34 L243.47 256.97 L244.04 255.61 L244.62 254.27 L245.19 252.94 L245.76 251.63 L246.34 250.33 L246.91 249.04 L247.48 247.76 L248.06 246.50 L248.63 245.25 L249.20 244.02 L249.78 242.79 L250.35 241.58 L250.92 240.38 L251.50 239.20 L252.07 238.02 L252.64 236.86 L253.22 235.71 L253.79 234.57 L254.36 233.45 L254.94 232.33 L255.51 231.23 L256.08 230.14 L256.66 229.06 L257.23 227.99 L257.80 226.94 L258.38 225.89 L258.95 224.86 L259.52 223.83 L260.09 222.82 L260.67 221.82 L261.24 220.83 L261.81 219.84 L262.39 218.87 L262.96 217.91 L263.53 216.97 L264.11 216.03 L264.68 215.10 L265.25 214.18 L265.83 213.27 L266.40 212.37 L266.97 211.48 L267.55 210.60 L268.12 209.73 L268.69 208.87 L269.27 208.02 L269.84 207.17 L270.41 206.34 L270.99 205.52 L271.56 204.70 L272.13 203.90 L272.71 203.10 L273.28 202.32 L273.85 201.54 L274.43 200.77 L275.00 200.01 L275.57 199.25 L276.15 198.51 L276.72 197.77 L277.29 197.05 L277.87 196.33 L278.44 195.62 L279.01 194.92 L279.59 194.22 L280.16 193.54 L280.73 192.86 L281.31 192.19 L281.88 191.52 L282.45 190.87 L283.03 190.22 L283.60 189.58 L284.17 188.95 L284.75 188.33 L285.32 187.71 L285.89 187.10 L286.47 186.50 L287.04 185.90 L287.61 185.32 L288.19 184.74 L288.76 184.16 L289.33 183.60 L289.91 183.04 L290.48 182.48 L291.05 181.94 L291.63 181.40 L292.20 180.87 L292.77 180.34 L293.35 179.82 L293.92 179.31 L294.49 178.80 L295.07 178.30 L295.64 177.81 L296.21 177.32 L296.79 176.84 L297.36 176.37 L297.93 175.90 L298.51 175.44 L299.08 174.98 L299.65 174.53 L300.23 174.09 L300.80 173.65 L301.37 173.22 L301.95 172.79 L302.52 172.37 L303.09 171.95 L303.67 171.55 L304.24 171.14 L304.81 170.74 L305.38 170.35 L305.96 169.96 L306.53 169.58 L307.10 169.21 L307.68 168.84 L308.25 168.47 L308.82 168.11 L309.40 167.75 L309.97 167.40 L310.54 167.06 L311.12 166.72 L311.69 166.39 L312.26 166.06 L312.84 165.73 L313.41 165.41 L313.98 165.10 L314.56 164.79 L315.13 164.48 L315.70 164.18 L316.28 163.88 L316.85 163.59 L317.42 163.31 L318.00 163.02 L318.57 162.75 L319.14 162.47 L319.72 162.21 L320.29 161.94 L320.86 161.68 L321.44 161.43 L322.01 161.18 L322.58 160.93 L323.16 160.69 L323.73 160.45 L324.30 160.21 L324.88 159.99 L325.45 159.76 L326.02 159.54 L326.60 159.32 L327.17 159.11 L327.74 158.90 L328.32 158.69 L328.89 158.49 L329.46 158.29 L330.04 158.10 L330.61 157.91 L331.18 157.72 L331.76 157.54 L332.33 157.36 L332.90 157.19 L333.48 157.01 L334.05 156.85 L334.62 156.68 L335.20 156.52 L335.77 156.36 L336.34 156.21 L336.92 156.06 L337.49 155.91 L338.06 155.77 L338.64 155.63 L339.21 155.49 L339.78 155.36 L340.36 155.23 L340.93 155.10 L341.50 154.98 L342.08 154.86 L342.65 154.74 L343.22 154.63 L343.80 154.52 L344.37 154.41 L344.94 154.31 L345.52 154.20 L346.09 154.11 L346.66 154.01 L347.24 153.92 L347.81 153.83 L348.38 153.74 L348.96 153.66 L349.53 153.58 L350.10 153.50 L350.68 153.42 L351.25 153.35 L351.82 153.28 L352.39 153.22 L352.97 153.15 L353.54 153.09 L354.11 153.03 L354.69 152.98 L355.26 152.92 L355.83 152.87 L356.41 152.83 L356.98 152.78 L357.55 152.74 L358.13 152.70 L358.70 152.66 L359.27 152.62 L359.85 152.59 L360.42 152.56 L360.99 152.53 L361.57 152.51 L362.14 152.49 L362.71 152.46 L363.29 152.45 L363.86 152.43 L364.43 152.42 L365.01 152.41 L365.58 152.40 L366.15 152.39 L366.73 152.38 L367.30 152.38 L367.87 152.38 L368.45 152.38 L369.02 152.39 L369.59 152.39 L370.17 152.40 L370.74 152.41 L371.31 152.43 L371.89 152.44 L372.46 152.46 L373.03 152.48 L373.61 152.50 L374.18 152.52 L374.75 152.54 L375.33 152.57 L375.90 152.60 L376.47 152.63 L377.05 152.66 L377.62 152.70 L378.19 152.73 L378.77 152.77 L379.34 152.81 L379.91 152.85 L380.49 152.90 L381.06 152.94 L381.63 152.99 L382.21 153.04 L382.78 153.09 L383.35 153.14 L383.93 153.20 L384.50 153.25 L385.07 153.31 L385.65 153.37 L386.22 153.43 L386.79 153.49 L387.37 153.56 L387.94 153.62 L388.51 153.69 L389.09 153.76 L389.66 153.83 L390.23 153.90 L390.81 153.98 L391.38 154.05 L391.95 154.13 L392.53 154.21 L393.10 154.29 L393.67 154.37 L394.25 154.45 L394.82 154.53 L395.39 154.62 L395.97 154.71 L396.54 154.80 L397.11 154.89 L397.68 154.98 L398.26 155.07 L398.83 155.16 L399.40 155.26 L399.98 155.36 L400.55 155.45 L401.12 155.55 L401.70 155.65 L402.27 155.76 L402.84 155.86 L403.42 155.96 L403.99 156.07 L404.56 156.18 L405.14 156.28 L405.71 156.39 L406.28 156.50 L406.86 156.62 L407.43 156.73 L408.00 156.84 L408.58 156.96 L409.15 157.08 L409.72 157.19 L410.30 157.31 L410.87 157.43 L411.44 157.55 L412.02 157.68 L412.59 157.80 L413.16 157.92 L413.74 158.05 L414.31 158.18 L414.88 158.30 L415.46 158.43 L416.03 158.56 L416.60 158.69 L417.18 158.83 L417.75 158.96 L418.32 159.09 L418.90 159.23 L419.47 159.36 L420.04 159.50 L420.62 159.64 L421.19 159.78 L421.76 159.92 L422.34 160.06 L422.91 160.20 L423.48 160.34 L424.06 160.48 L424.63 160.63 L425.20 160.77 L425.78 160.92 L426.35 161.07 L426.92 161.21 L427.50 161.36 L428.07 161.51 L428.64 161.66 L429.22 161.81 L429.79 161.96 L430.36 162.12 L430.94 162.27 L431.51 162.43 L432.08 162.58 L432.66 162.74 L433.23 162.89 L433.80 163.05 L434.38 163.21 L434.95 163.37 L435.52 163.53 L436.10 163.69 L436.67 163.85 L437.24 164.01 L437.82 164.17 L438.39 164.34 L438.96 164.50 L439.54 164.67 L440.11 164.83 L440.68 165.00 L441.26 165.17 L441.83 165.33 L442.40 165.50 L442.98 165.67 L443.55 165.84 L444.12 166.01 L444.69 166.18 L445.27 166.35 L445.84 166.52 L446.41 166.70 L446.99 166.87 L447.56 167.04 L448.13 167.22 L448.71 167.39 L449.28 167.57 L449.85 167.74 L450.43 167.92 L451.00 168.10 L451.57 168.28 L452.15 168.45 L452.72 168.63 L453.29 168.81 L453.87 168.99 L454.44 169.17 L455.01 169.36 L455.59 169.54 L456.16 169.72 L456.73 169.90 L457.31 170.09 L457.88 170.27 L458.45 170.45 L459.03 170.64 L459.60 170.82 L460.17 171.01 L460.75 171.19 L461.32 171.38 L461.89 171.57 L462.47 171.76 L463.04 171.94 L463.61 172.13 L464.19 172.32 L464.76 172.51 L465.33 172.70 L465.91 172.89 L466.48 173.08 L467.05 173.27 L467.63 173.46 L468.20 173.65 L468.77 173.85 L469.35 174.04 L469.92 174.23 L470.49 174.42 L471.07 174.62 L471.64 174.81 L472.21 175.01 L472.79 175.20 L473.36 175.40 L473.93 175.59 L474.51 175.79 L475.08 175.98 L475.65 176.18 L476.23 176.38 L476.80 176.57 L477.37 176.77 L477.95 176.97 L478.52 177.17 L479.09 177.37 L479.67 177.56 L480.24 177.76 L480.81 177.96 L481.39 178.16 L481.96 178.36 L482.53 178.56 L483.11 178.76 L483.68 178.96 L484.25 179.17 L484.83 179.37 L485.40 179.57 L485.97 179.77 L486.55 179.97 L487.12 180.18 L487.69 180.38 L488.27 180.58 L488.84 180.78 L489.41 180.99 L489.98 181.19 L490.56 181.40 L491.13 181.60 L491.70 181.81 L492.28 182.01 L492.85 182.21 L493.42 182.42 L494.00 182.63 L494.57 182.83 L495.14 183.04 L495.72 183.24 L496.29 183.45 L496.86 183.66 L497.44 183.86 L498.01 184.07 L498.58 184.28 L499.16 184.48 L499.73 184.69 L500.30 184.90 L500.88 185.11 L501.45 185.31 L502.02 185.52 L502.60 185.73 L503.17 185.94 L503.74 186.15 L504.32 186.36 L504.89 186.56 L505.46 186.77 L506.04 186.98 L506.61 187.19 L507.18 187.40 L507.76 187.61 L508.33 187.82 L508.90 188.03 L509.48 188.24 L510.05 188.45 L510.62 188.66 L511.20 188.87 L511.77 189.08 L512.34 189.29 L512.92 189.51 L513.49 189.72 L514.06 189.93 L514.64 190.14 L515.21 190.35 L515.78 190.56 L516.36 190.77 L516.93 190.98 L517.50 191.20 L518.08 191.41 L518.65 191.62 L519.22 191.83 L519.80 192.04 L520.37 192.26 L520.94 192.47 L521.52 192.68 L522.09 192.89 L522.66 193.11 L523.24 193.32 L523.81 193.53 L524.38 193.74 L524.96 193.96 L525.53 194.17 L526.10 194.38 L526.68 194.60 L527.25 194.81 L527.82 195.02 L528.40 195.24 L528.97 195.45 L529.54 195.66 L530.12 195.87 L530.69 196.09 L531.26 196.30 L531.84 196.52 L532.41 196.73 L532.98 196.94 L533.56 197.16 L534.13 197.37 L534.70 197.58 L535.27 197.80 L535.85 198.01 L536.42 198.22 L536.99 198.44 L537.57 198.65 L538.14 198.87 L538.71 199.08 L539.29 199.29 L539.86 199.51 L540.43 199.72 L541.01 199.94 L541.58 200.15 L542.15 200.36 L542.73 200.58 L543.30 200.79 L543.87 201.01 L544.45 201.22 L545.02 201.43 L545.59 201.65 L546.17 201.86 L546.74 202.08 L547.31 202.29 L547.89 202.50 L548.46 202.72 L549.03 202.93 L549.61 203.14 L550.18 203.36 L550.75 203.57 L551.33 203.79 L551.90 204.00 L552.47 204.21 L553.05 204.43 L553.62 204.64 L554.19 204.86 L554.77 205.07 L555.34 205.28 L555.91 205.50 L556.49 205.71 L557.06 205.92 L557.63 206.14 L558.21 206.35 L558.78 206.56 L559.35 206.78 L559.93 206.99 L560.50 207.21 L561.07 207.42 L561.65 207.63 L562.22 207.85 L562.79 208.06 L563.37 208.27 L563.94 208.48 L564.51 208.70 L565.09 208.91 L565.66 209.12 L566.23 209.34 L566.81 209.55 L567.38 209.76 L567.95 209.98 L568.53 210.19 L569.10 210.40 L569.67 210.61 L570.25 210.83 L570.82 211.04 L571.39 211.25 L571.97 211.46 L572.54 211.68 L573.11 211.89 L573.69 212.10 L574.26 212.31 L574.83 212.52 L575.41 212.74 L575.98 212.95 L576.55 213.16 L577.13 213.37 L577.70 213.58 L578.27 213.79 L578.85 214.01 L579.42 214.22 L579.99 214.43 L580.57 214.64 L581.14 214.85 L581.71 215.06 L582.28 215.27 L582.86 215.48 L583.43 215.69 L584.00 215.91 L584.58 216.12 L585.15 216.33 L585.72 216.54 L586.30 216.75 L586.87 216.96 L587.44 217.17 L588.02 217.38 L588.59 217.59 L589.16 217.80 L589.74 218.01 L590.31 218.22 L590.88 218.43 L591.46 218.64 L592.03 218.85 L592.60 219.06 L593.18 219.27 L593.75 219.47 L594.32 219.68 L594.90 219.89 L595.47 220.10 L596.04 220.31 L596.62 220.52 L597.19 220.73 L597.76 220.94 L598.34 221.14 L598.91 221.35 L599.48 221.56 L600.06 221.77 L600.63 221.98 L601.20 222.18 L601.78 222.39 L602.35 222.60 L602.92 222.81 L603.50 223.01 L604.07 223.22 L604.64 223.43 L605.22 223.63 L605.79 223.84 L606.36 224.05 L606.94 224.25 L607.51 224.46 L608.08 224.67 L608.66 224.87 L609.23 225.08 L609.80 225.29 L610.38 225.49 L610.95 225.70 L611.52 225.90 L612.10 226.11 L612.67 226.31 L613.24 226.52 L613.82 226.72 L614.39 226.93 L614.96 227.13 L615.54 227.34 L616.11 227.54 L616.68 227.75 L617.26 227.95 L617.83 228.16 L618.40 228.36 L618.98 228.56 L619.55 228.77 L620.12 228.97 L620.70 229.17 L621.27 229.38 L621.84 229.58 L622.42 229.78 L622.99 229.99 L623.56 230.19 L624.14 230.39 L624.71 230.60 L625.28 230.80 L625.86 231.00 L626.43 231.20 L627.00 231.40 L627.57 231.61 L628.15 231.81 L628.72 232.01 L629.29 232.21 L629.87 232.41 L630.44 232.61 L631.01 232.82 L631.59 233.02 L632.16 233.22 L632.73 233.42 L633.31 233.62 L633.88 233.82 L634.45 234.02 L635.03 234.22 L635.60 234.42 L636.17 234.62 L636.75 234.82 L637.32 235.02 L637.89 235.22 L638.47 235.42 L639.04 235.61 L639.61 235.81 L640.19 236.01 L640.76 236.21 L641.33 236.41 L641.91 236.61 L642.48 236.81 L643.05 237.00 L643.63 237.20 L644.20 237.40 L644.77 237.60 L645.35 237.79 L645.92 237.99 L646.49 238.19 L647.07 238.39 L647.64 238.58 L648.21 238.78 L648.79 238.98 L649.36 239.17 L649.93 239.37 L650.51 239.56 L651.08 239.76 L651.65 239.96 L652.23 240.15 L652.80 240.35 L653.37 240.54 L653.95 240.74 L654.52 240.93 L655.09 241.13 L655.67 241.32 L656.24 241.52 L656.81 241.71 L657.39 241.90 L657.96 242.10 L658.53 242.29 L659.11 242.49 L659.68 242.68 L660.25 242.87 L660.83 243.07 L661.40 243.26 L661.97 243.45 L662.55 243.64 L663.12 243.84 L663.69 244.03 L664.27 244.22 L664.84 244.41 L665.41 244.60 L665.99 244.80 L666.56 244.99 L667.13 245.18 L667.71 245.37 L668.28 245.56 L668.85 245.75 L669.43 245.94 L670.00 246.13 L670.57 246.32 L671.15 246.52 L671.72 246.71 L672.29 246.90 L672.86 247.08 L673.44 247.27 L674.01 247.46 L674.58 247.65 L675.16 247.84 L675.73 248.03 L676.30 248.22 L676.88 248.41 L677.45 248.60 L678.02 248.79 L678.60 248.97 L679.17 249.16 L679.74 249.35 L680.32 249.54 L680.89 249.72 L681.46 249.91 L682.04 250.10 L682.61 250.29 L683.18 250.47 L683.76 250.66 L684.33 250.85 L684.90 251.03 L685.48 251.22 L686.05 251.40 L686.62 251.59 L687.20 251.78 L687.77 251.96 L688.34 252.15 L688.92 252.33 L689.49 252.52 L690.06 252.70 L690.64 252.89 L691.21 253.07 L691.78 253.26 L692.36 253.44 L692.93 253.62 L693.50 253.81 L694.08 253.99 L694.65 254.17 L695.22 254.36 L695.80 254.54 L696.37 254.72 L696.94 254.91 L697.52 255.09 L698.09 255.27 L698.66 255.45 L699.24 255.64 L699.81 255.82 L700.38 256.00 L700.96 256.18 L701.53 256.36 L702.10 256.54 L702.68 256.73 L703.25 256.91 L703.82 257.09 L704.40 257.27 L704.97 257.45 L705.54 257.63 L706.12 257.81 L706.69 257.99 L707.26 258.17 L707.84 258.35 L708.41 258.53 L708.98 258.71 L709.56 258.89 L710.13 259.06 L710.70 259.24 L711.28 259.42 L711.85 259.60 L712.42 259.78 L713.00 259.96 L713.57 260.13 L714.14 260.31 L714.72 260.49 L715.29 260.67 L715.86 260.84 L716.44 261.02 L717.01 261.20 L717.58 261.38 L718.16 261.55 L718.73 261.73 L719.30 261.90 L719.87 262.08 L720.45 262.26 L721.02 262.43 L721.59 262.61 L722.17 262.78 L722.74 262.96 L723.31 263.13 L723.89 263.31 L724.46 263.48 L725.03 263.66 L725.61 263.83 L726.18 264.01 L726.75 264.18 L727.33 264.35 L727.90 264.53 L728.47 264.70 L729.05 264.87 L729.62 265.05 L730.19 265.22 L730.77 265.39 L731.34 265.57 L731.91 265.74 L732.49 265.91 L733.06 266.08 L733.63 266.25 L734.21 266.43 L734.78 266.60 L735.35 266.77 L735.93 266.94 L736.50 267.11 L737.07 267.28 L737.65 267.45 L738.22 267.62 L738.79 267.79 L739.37 267.96 L739.94 268.13 L740.51 268.30 L741.09 268.47 L741.66 268.64 L742.23 268.81 L742.81 268.98 L743.38 269.15 L743.95 269.32 L744.53 269.49 L745.10 269.66 L745.67 269.83 L746.25 269.99 L746.82 270.16 L747.39 270.33 L747.97 270.50 L748.54 270.67 L749.11 270.83 L749.69 271.00 L750.26 271.17 L750.83 271.33 L751.41 271.50 L751.98 271.67 L752.55 271.83 L753.13 272.00 L753.70 272.17 L754.27 272.33 L754.85 272.50 L755.42 272.66 L755.99 272.83 L756.57 272.99 L757.14 273.16 L757.71 273.32 L758.29 273.49 L758.86 273.65 L759.43 273.82 L760.01 273.98 L760.58 274.15 L761.15 274.31 L761.73 274.47 L762.30 274.64 L762.87 274.80 L763.45 274.96 L764.02 275.13 L764.59 275.29 L765.16 275.45 L765.74 275.61 L766.31 275.78 L766.88 275.94 L767.46 276.10 L768.03 276.26 L768.60 276.42 L769.18 276.59 L769.75 276.75 L770.32 276.91 L770.90 277.07 L771.47 277.23 L772.04 277.39 L772.62 277.55 L773.19 277.71 L773.76 277.87 L774.34 278.03 L774.91 278.19 L775.48 278.35 L776.06 278.51 L776.63 278.67 L777.20 278.83 L777.78 278.99 L778.35 279.15 L778.92 279.31 L779.50 279.46 L780.07 279.62 L780.64 279.78 L781.22 279.94 L781.79 280.10 L782.36 280.25 L782.94 280.41 L783.51 280.57 L784.08 280.73 L784.66 280.88 L785.23 281.04 L785.80 281.20 L786.38 281.35 L786.95 281.51" stroke="#00ff00"/>
<path d="M172.77 466.90 L172.95 465.75 L173.53 462.29 L174.10 458.86 L174.67 455.46 L175.25 452.09 L175.82 448.76 L176.39 445.45 L176.97 442.18 L177.54 438.93 L178.11 435.72 L178.69 432.54 L179.26 429.38 L179.83 426.26 L180.41 423.16 L180.98 420.09 L181.55 417.05 L182.13 414.04 L182.70 411.06 L183.27 408.11 L183.85 405.18 L184.42 402.28 L184.99 399.41 L185.57 396.56 L186.14 393.74 L186.71 390.95 L187.29 388.18 L187.86 385.44 L188.43 382.73 L189.01 380.04 L189.58 377.37 L190.15 374.73 L190.73 372.12 L191.30 369.53 L191.87 366.96 L192.45 364.42 L193.02 361.90 L193.59 359.41 L194.17 356.94 L194.74 354.49 L195.31 352.07 L195.89 349.67 L196.46 347.29 L197.03 344.93 L197.61 342.60 L198.18 340.29 L198.75 338.00 L199.33 335.73 L199.90 333.49 L200.47 331.26 L201.05 329.06 L201.62 326.88 L202.19 324.71 L202.77 322.57 L203.34 320.45 L203.91 318.35 L204.49 316.27 L205.06 314.21 L205.63 312.17 L206.21 310.15 L206.78 308.15 L207.35 306.16 L207.93 304.20 L208.50 302.26 L209.07 300.33 L209.65 298.42 L210.22 296.54 L210.79 294.67 L211.37 292.81 L211.94 290.98 L212.51 289.16 L213.09 287.36 L213.66 285.58 L214.23 283.82 L214.80 282.07 L215.38 280.34 L215.95 278.63 L216.52 276.93 L217.10 275.25 L217.67 273.59 L218.24 271.94 L218.82 270.31 L219.39 268.70 L219.96 267.10 L220.54 265.52 L221.11 263.95 L221.68 262.40 L222.26 260.86 L222.83 259.34 L223.40 257.83 L223.98 256.34 L224.55 254.87 L225.12 253.40 L225.70 251.96 L226.27 250.52 L226.84 249.11 L227.42 247.70 L227.99 246.31 L228.56 244.94 L229.14 243.57 L229.71 242.23 L230.28 240.89 L230.86 239.57 L231.43 238.26 L232.00 236.97 L232.58 235.69 L233.15 234.42 L233.72 233.16 L234.30 231.92 L234.87 230.69 L235.44 229.47 L236.02 228.27 L236.59 227.08 L237.16 225.90 L237.74 224.73 L238.31 223.57 L238.88 222.43 L239.46 221.30 L240.03 220.18 L240.60 219.07 L241.18 217.97 L241.75 216.89 L242.32 215.82 L242.90 214.75 L243.47 213.70 L244.04 212.66 L244.62 211.63 L245.19 210.61 L245.76 209.61 L246.34 208.61 L246.91 207.62 L247.48 206.65 L248.06 205.68 L248.63 204.73 L249.20 203.79 L249.78 202.85 L250.35 201.93 L250.92 201.01 L251.50 200.11 L252.07 199.21 L252.64 198.33 L253.22 197.46 L253.79 196.59 L254.36 195.74 L254.94 194.89 L255.51 194.05 L256.08 193.23 L256.66 192.41 L257.23 191.60 L257.80 190.80 L258.38 190.01 L258.95 189.22 L259.52 188.45 L260.09 187.69 L260.67 186.93 L261.24 186.18 L261.81 185.45 L262.39 184.72 L262.96 183.99 L263.53 183.28 L264.11 182.58 L264.68 181.88 L265.25 181.19 L265.83 180.51 L266.40 179.84 L266.97 179.17 L267.55 178.51 L268.12 177.86 L268.69 177.22 L269.27 176.59 L269.84 175.96 L270.41 175.34 L270.99 174.73 L271.56 174.13 L272.13 173.53 L272.71 172.94 L273.28 172.36 L273.85 171.79 L274.43 171.22 L275.00 170.66 L275.57 170.11 L276.15 169.56 L276.72 169.02 L277.29 168.49 L277.87 167.96 L278.44 167.44 L279.01 166.93 L279.59 166.42 L280.16 165.92 L280.73 165.43 L281.31 164.94 L281.88 164.46 L282.45 163.99 L283.03 163.52 L283.60 163.06 L284.17 162.60 L284.75 162.15 L285.32 161.71 L285.89 161.27 L286.47 160.84 L287.04 160.41 L287.61 159.99 L288.19 159.58 L288.76 159.17 L289.33 158.77 L289.91 158.37 L290.48 157.98 L291.05 157.60 L291.63 157.22 L292.20 156.84 L292.77 156.47 L293.35 156.11 L293.92 155.75 L294.49 155.40 L295.07 155.05 L295.64 154.71 L296.21 154.37 L296.79 154.04 L297.36 153.71 L297.93 153.39 L298.51 153.07 L299.08 152.76 L299.65 152.45 L300.23 152.15 L300.80 151.85 L301.37 151.56 L301.95 151.27 L302.52 150.99 L303.09 150.71 L303.67 150.43 L304.24 150.16 L304.81 149.90 L305.38 149.64 L305.96 149.38 L306.53 149.13 L307.10 148.88 L307.68 148.64 L308.25 148.40 L308.82 148.17 L309.40 147.94 L309.97 147.71 L310.54 147.49 L311.12 147.28 L311.69 147.06 L312.26 146.85 L312.84 146.65 L313.41 146.45 L313.98 146.25 L314.56 146.06 L315.13 145.87 L315.70 145.68 L316.28 145.50 L316.85 145.33 L317.42 145.15 L318.00 144.98 L318.57 144.82 L319.14 144.65 L319.72 144.50 L320.29 144.34 L320.86 144.19 L321.44 144.04 L322.01 143.90 L322.58 143.76 L323.16 143.62 L323.73 143.48 L324.30 143.35 L324.88 143.23 L325.45 143.10 L326.02 142.98 L326.60 142.87 L327.17 142.75 L327.74 142.64 L328.32 142.53 L328.89 142.43 L329.46 142.33 L330.04 142.23 L330.61 142.14 L331.18 142.04 L331.76 141.96 L332.33 141.87 L332.90 141.79 L333.48 141.71 L334.05 141.63 L334.62 141.56 L335.20 141.49 L335.77 141.42 L336.34 141.36 L336.92 141.29 L337.49 141.24 L338.06 141.18 L338.64 141.13 L339.21 141.07 L339.78 141.03 L340.36 140.98 L340.93 140.94 L341.50 140.90 L342.08 140.86 L342.65 140.83 L343.22 140.79 L343.80 140.76 L344.37 140.74 L344.94 140.71 L345.52 140.69 L346.09 140.67 L346.66 140.65 L347.24 140.64 L347.81 140.63 L348.38 140.62 L348.96 140.61 L349.53 140.60 L350.10 140.60 L350.68 140.60 L351.25 140.60 L351.82 140.61 L352.39 140.61 L352.97 140.62 L353.54 140.63 L354.11 140.65 L354.69 140.66 L355.26 140.68 L355.83 140.70 L356.41 140.72 L356.98 140.74 L357.55 140.77 L358.13 140.80 L358.70 140.83 L359.27 140.86 L359.85 140.89 L360.42 140.93 L360.99 140.97 L361.57 141.01 L362.14 141.05 L362.71 141.09 L363.29 141.14 L363.86 141.19 L364.43 141.24 L365.01 141.29 L365.58 141.34 L366.15 141.40 L366.73 141.45 L367.30 141.51 L367.87 141.57 L368.45 141.64 L369.02 141.70 L369.59 141.77 L370.17 141.83 L370.74 141.90 L371.31 141.97 L371.89 142.05 L372.46 142.12 L373.03 142.20 L373.61 142.28 L374.18 142.35 L374.75 142.44 L375.33 142.52 L375.90 142.60 L376.47 142.69 L377.05 142.77 L377.62 142.86 L378.19 142.95 L378.77 143.05 L379.34 143.14 L379.91 143.23 L380.49 143.33 L381.06 143.43 L381.63 143.53 L382.21 143.63 L382.78 143.73 L383.35 143.83 L383.93 143.94 L384.50 144.04 L385.07 144.15 L385.65 144.26 L386.22 144.37 L386.79 144.48 L387.37 144.59 L387.94 144.71 L388.51 144.82 L389.09 144.94 L389.66 145.06 L390.23 145.18 L390.81 145.30 L391.38 145.42 L391.95 145.54 L392.53 145.67 L393.10 145.79 L393.67 145.92 L394.25 146.05 L394.82 146.17 L395.39 146.30 L395.97 146.44 L396.54 146.57 L397.11 146.70 L397.68 146.84 L398.26 146.97 L398.83 147.11 L399.40 147.25 L399.98 147.39 L400.55 147.53 L401.12 147.67 L401.70 147.81 L402.27 147.95 L402.84 148.10 L403.42 148.24 L403.99 148.39 L404.56 148.53 L405.14 148.68 L405.71 148.83 L406.28 148.98 L406.86 149.13 L407.43 149.29 L408.00 149.44 L408.58 149.59 L409.15 149.75 L409.72 149.90 L410.30 150.06 L410.87 150.22 L411.44 150.38 L412.02 150.54 L412.59 150.70 L413.16 150.86 L413.74 151.02 L414.31 151.18 L414.88 151.34 L415.46 151.51 L416.03 151.67 L416.60 151.84 L417.18 152.01 L417.75 152.17 L418.32 152.34 L418.90 152.51 L419.47 152.68 L420.04 152.85 L420.62 153.02 L421.19 153.20 L421.76 153.37 L422.34 153.54 L422.91 153.72 L423.48 153.89 L424.06 154.07 L424.63 154.25 L425.20 154.42 L425.78 154.60 L426.35 154.78 L426.92 154.96 L427.50 155.14 L428.07 155.32 L428.64 155.50 L429.22 155.68 L429.79 155.87 L430.36 156.05 L430.94 156.23 L431.51 156.42 L432.08 156.60 L432.66 156.79 L433.23 156.97 L433.80 157.16 L434.38 157.35 L434.95 157.54 L435.52 157.73 L436.10 157.92 L436.67 158.10 L437.24 158.30 L437.82 158.49 L438.39 158.68 L438.96 158.87 L439.54 159.06 L440.11 159.26 L440.68 159.45 L441.26 159.64 L441.83 159.84 L442.40 160.03 L442.98 160.23 L443.55 160.42 L444.12 160.62 L444.69 160.82 L445.27 161.02 L445.84 161.21 L446.41 161.41 L446.99 161.61 L447.56 161.81 L448.13 162.01 L448.71 162.21 L449.28 162.41 L449.85 162.61 L450.43 162.81 L451.00 163.02 L451.57 163.22 L452.15 163.42 L452.72 163.62 L453.29 163.83 L453.87 164.03 L454.44 164.24 L455.01 164.44 L455.59 164.65 L456.16 164.85 L456.73 165.06 L457.31 165.26 L457.88 165.47 L458.45 165.68 L459.03 165.89 L459.60 166.09 L460.17 166.30 L460.75 166.51 L461.32 166.72 L461.89 166.93 L462.47 167.14 L463.04 167.35 L463.61 167.56 L464.19 167.77 L464.76 167.98 L465.33 168.19 L465.91 168.40 L466.48 168.61 L467.05 168.82 L467.63 169.04 L468.20 169.25 L468.77 169.46 L469.35 169.67 L469.92 169.89 L470.49 170.10 L471.07 170.31 L471.64 170.53 L472.21 170.74 L472.79 170.96 L473.36 171.17 L473.93 171.39 L474.51 171.60 L475.08 171.82 L475.65 172.03 L476.23 172.25 L476.80 172.47 L477.37 172.68 L477.95 172.90 L478.52 173.12 L479.09 173.33 L479.67 173.55 L480.24 173.77 L480.81 173.99 L481.39 174.21 L481.96 174.42 L482.53 174.64 L483.11 174.86 L483.68 175.08 L484.25 175.30 L484.83 175.52 L485.40 175.74 L485.97 175.96 L486.55 176.18 L487.12 176.40 L487.69 176.62 L488.27 176.84 L488.84 177.06 L489.41 177.28 L489.98 177.50 L490.56 177.72 L491.13 177.94 L491.70 178.16 L492.28 178.38 L492.85 178.60 L493.42 178.82 L494.00 179.04 L494.57 179.27 L495.14 179.49 L495.72 179.71 L496.29 179.93 L496.86 180.15 L497.44 180.38 L498.01 180.60 L498.58 180.82 L499.16 181.04 L499.73 181.27 L500.30 181.49 L500.88 181.71 L501.45 181.94 L502.02 182.16 L502.60 182.38 L503.17 182.61 L503.74 182.83 L504.32 183.05 L504.89 183.28 L505.46 183.50 L506.04 183.72 L506.61 183.95 L507.18 184.17 L507.76 184.40 L508.33 184.62 L508.90 184.84 L509.48 185.07 L510.05 185.29 L510.62 185.52 L511.20 185.74 L511.77 185.96 L512.34 186.19 L512.92 186.41 L513.49 186.64 L514.06 186.86 L514.64 187.09 L515.21 187.31 L515.78 187.54 L516.36 187.76 L516.93 187.99 L517.50 188.21 L518.08 188.44 L518.65 188.66 L519.22 188.89 L519.80 189.11 L520.37 189.34 L520.94 189.56 L521.52 189.79 L522.09 190.01 L522.66 190.24 L523.24 190.46 L523.81 190.69 L524.38 190.91 L524.96 191.14 L525.53 191.36 L526.10 191.59 L526.68 191.81 L527.25 192.04 L527.82 192.26 L528.40 192.49 L528.97 192.71 L529.54 192.94 L530.12 193.16 L530.69 193.39 L531.26 193.61 L531.84 193.84 L532.41 194.06 L532.98 194.29 L533.56 194.51 L534.13 194.73 L534.70 194.96 L535.27 195.18 L535.85 195.41 L536.42 195.63 L536.99 195.86 L537.57 196.08 L538.14 196.31 L538.71 196.53 L539.29 196.76 L539.86 196.98 L540.43 197.21 L541.01 197.43 L541.58 197.66 L542.15 197.88 L542.73 198.10 L543.30 198.33 L543.87 198.55 L544.45 198.78 L545.02 199.00 L545.59 199.23 L546.17 199.45 L546.74 199.67 L547.31 199.90 L547.89 200.12 L548.46 200.35 L549.03 200.57 L549.61 200.79 L550.18 201.02 L550.75 201.24 L551.33 201.46 L551.90 201.69 L552.47 201.91 L553.05 202.13 L553.62 202.36 L554.19 202.58 L554.77 202.80 L555.34 203.03 L555.91 203.25 L556.49 203.47 L557.06 203.70 L557.63 203.92 L558.21 204.14 L558.78 204.36 L559.35 204.59 L559.93 204.81 L560.50 205.03 L561.07 205.25 L561.65 205.47 L562.22 205.70 L562.79 205.92 L563.37 206.14 L563.94 206.36 L564.51 206.58 L565.09 206.81 L565.66 207.03 L566.23 207.25 L566.81 207.47 L567.38 207.69 L567.95 207.91 L568.53 208.13 L569.10 208.35 L569.67 208.58 L570.25 208.80 L570.82 209.02 L571.39 209.24 L571.97 209.46 L572.54 209.68 L573.11 209.90 L573.69 210.12 L574.26 210.34 L574.83 210.56 L575.41 210.78 L575.98 211.00 L576.55 211.22 L577.13 211.44 L577.70 211.66 L578.27 211.88 L578.85 212.10 L579.42 212.31 L579.99 212.53 L580.57 212.75 L581.14 212.97 L581.71 213.19 L582.28 213.41 L582.86 213.63 L583.43 213.84 L584.00 214.06 L584.58 214.28 L585.15 214.50 L585.72 214.72 L586.30 214.93 L586.87 215.15 L587.44 215.37 L588.02 215.58 L588.59 215.80 L589.16 216.02 L589.74 216.24 L590.31 216.45 L590.88 216.67 L591.46 216.89 L592.03 217.10 L592.60 217.32 L593.18 217.53 L593.75 217.75 L594.32 217.97 L594.90 218.18 L595.47 218.40 L596.04 218.61 L596.62 218.83 L597.19 219.04 L597.76 219.26 L598.34 219.47 L598.91 219.69 L599.48 219.90 L600.06 220.12 L600.63 220.33 L601.20 220.54 L601.78 220.76 L602.35 220.97 L602.92 221.19 L603.50 221.40 L604.07 221.61 L604.64 221.83 L605.22 222.04 L605.79 222.25 L606.36 222.46 L606.94 222.68 L607.51 222.89 L608.08 223.10 L608.66 223.31 L609.23 223.53 L609.80 223.74 L610.38 223.95 L610.95 224.16 L611.52 224.37 L612.10 224.58 L612.67 224.80 L613.24 225.01 L613.82 225.22 L614.39 225.43 L614.96 225.64 L615.54 225.85 L616.11 226.06 L616.68 226.27 L617.26 226.48 L617.83 226.69 L618.40 226.90 L618.98 227.11 L619.55 227.32 L620.12 227.53 L620.70 227.74 L621.27 227.94 L621.84 228.15 L622.42 228.36 L622.99 228.57 L623.56 228.78 L624.14 228.99 L624.71 229.19 L625.28 229.40 L625.86 229.61 L626.43 229.82 L627.00 230.02 L627.57 230.23 L628.15 230.44 L628.72 230.64 L629.29 230.85 L629.87 231.06 L630.44 231.26 L631.01 231.47 L631.59 231.68 L632.16 231.88 L632.73 232.09 L633.31 232.29 L633.88 232.50 L634.45 232.70 L635.03 232.91 L635.60 233.11 L636.17 233.32 L636.75 233.52 L637.32 233.73 L637.89 233.93 L638.47 234.13 L639.04 234.34 L639.61 234.54 L640.19 234.74 L640.76 234.95 L641.33 235.15 L641.91 235.35 L642.48 235.56 L643.05 235.76 L643.63 235.96 L644.20 236.16 L644.77 236.37 L645.35 236.57 L645.92 236.77 L646.49 236.97 L647.07 237.17 L647.64 237.37 L648.21 237.57 L648.79 237.77 L649.36 237.98 L649.93 238.18 L650.51 238.38 L651.08 238.58 L651.65 238.78 L652.23 238.98 L652.80 239.18 L653.37 239.38 L653.95 239.57 L654.52 239.77 L655.09 239.97 L655.67 240.17 L656.24 240.37 L656.81 240.57 L657.39 240.77 L657.96 240.96 L658.53 241.16 L659.11 241.36 L659.68 241.56 L660.25 241.76 L660.83 241.95 L661.40 242.15 L661.97 242.35 L662.55 242.54 L663.12 242.74 L663.69 242.94 L664.27 243.13 L664.84 243.33 L665.41 243.52 L665.99 243.72 L666.56 243.91 L667.13 244.11 L667.71 244.30 L668.28 244.50 L668.85 244.69 L669.43 244.89 L670.00 245.08 L670.57 245.28 L671.15 245.47 L671.72 245.67 L672.29 245.86 L672.86 246.05 L673.44 246.25 L674.01 246.44 L674.58 246.63 L675.16 246.82 L675.73 247.02 L676.30 247.21 L676.88 247.40 L677.45 247.59 L678.02 247.79 L678.60 247.98 L679.17 248.17 L679.74 248.36 L680.32 248.55 L680.89 248.74 L681.46 248.93 L682.04 249.12 L682.61 249.31 L683.18 249.50 L683.76 249.69 L684.33 249.88 L684.90 250.07 L685.48 250.26 L686.05 250.45 L686.62 250.64 L687.20 250.83 L687.77 251.02 L688.34 251.21 L688.92 251.40 L689.49 251.58 L690.06 251.77 L690.64 251.96 L691.21 252.15 L691.78 252.34 L692.36 252.52 L692.93 252.71 L693.50 252.90 L694.08 253.08 L694.65 253.27 L695.22 253.46 L695.80 253.64 L696.37 253.83 L696.94 254.01 L697.52 254.20 L698.09 254.39 L698.66 254.57 L699.24 254.76 L699.81 254.94 L700.38 255.13 L700.96 255.31 L701.53 255.50 L702.10 255.68 L702.68 255.86 L703.25 256.05 L703.82 256.23 L704.40 256.41 L704.97 256.60 L705.54 256.78 L706.12 256.96 L706.69 257.15 L707.26 257.33 L707.84 257.51 L708.41 257.69 L708.98 257.88 L709.56 258.06 L710.13 258.24 L710.70 258.42 L711.28 258.60 L711.85 258.78 L712.42 258.96 L713.00 259.15 L713.57 259.33 L714.14 259.51 L714.72 259.69 L715.29 259.87 L715.86 260.05 L716.44 260.23 L717.01 260.41 L717.58 260.59 L718.16 260.76 L718.73 260.94 L719.30 261.12 L719.87 261.30 L720.45 261.48 L721.02 261.66 L721.59 261.84 L722.17 262.01 L722.74 262.19 L723.31 262.37 L723.89 262.55 L724.46 262.72 L725.03 262.90 L725.61 263.08 L726.18 263.25 L726.75 263.43 L727.33 263.61 L727.90 263.78 L728.47 263.96 L729.05 264.13 L729.62 264.31 L730.19 264.49 L730.77 264.66 L731.34 264.84 L731.91 265.01 L732.49 265.19 L733.06 265.36 L733.63 265.53 L734.21 265.71 L734.78 265.88 L735.35 266.06 L735.93 266.23 L736.50 266.40 L737.07 266.58 L737.65 266.75 L738.22 266.92 L738.79 267.10 L739.37 267.27 L739.94 267.44 L740.51 267.61 L741.09 267.78 L741.66 267.96 L742.23 268.13 L742.81 268.30 L743.38 268.47 L743.95 268.64 L744.53 268.81 L745.10 268.98 L745.67 269.15 L746.25 269.32 L746.82 269.49 L747.39 269.66 L747.97 269.83 L748.54 270.00 L749.11 270.17 L749.69 270.34 L750.26 270.51 L750.83 270.68 L751.41 270.85 L751.98 271.02 L752.55 271.19 L753.13 271.36 L753.70 271.52 L754.27 271.69 L754.85 271.86 L755.42 272.03 L755.99 272.19 L756.57 272.36 L757.14 272.53 L757.71 272.70 L758.29 272.86 L758.86 273.03 L759.43 273.19 L760.01 273.36 L760.58 273.53 L761.15 273.69 L761.73 273.86 L762.30 274.02 L762.87 274.19 L763.45 274.35 L764.02 274.52 L764.59 274.68 L765.16 274.85 L765.74 275.01 L766.31 275.18 L766.88 275.34 L767.46 275.51 L768.03 275.67 L768.60 275.83 L769.18 276.00 L769.75 276.16 L770.32 276.32 L770.90 276.49 L771.47 276.65 L772.04 276.81 L772.62 276.97 L773.19 277.13 L773.76 277.30 L774.34 277.46 L774.91 277.62 L775.48 277.78 L776.06 277.94 L776.63 278.10 L777.20 278.27 L777.78 278.43 L778.35 278.59 L778.92 278.75 L779.50 278.91 L780.07 279.07 L780.64 279.23 L781.22 279.39 L781.79 279.55 L782.36 279.71 L782.94 279.87 L783.51 280.02 L784.08 280.18 L784.66 280.34 L785.23 280.50 L785.80 280.66 L786.38 280.82 L786.95 280.98" stroke="#000000"/>
</g>
<rect x="99.0" y="41.5" width="687.95" height="425.4" fill="none" stroke="#303030" stroke-width="1.5"/>
<path d="M99.00 466.9 V461.50 M121.93 466.9 V463.85 M144.86 466.9 V463.85 M167.80 466.9 V463.85 M190.73 466.9 V463.85 M213.66 466.9 V461.50 M236.59 466.9 V463.85 M259.52 466.9 V463.85 M282.45 466.9 V463.85 M305.38 466.9 V463.85 M328.32 466.9 V461.50 M351.25 466.9 V463.85 M374.18 466.9 V463.85 M397.11 466.9 V463.85 M420.04 466.9 V463.85 M442.98 466.9 V461.50 M465.91 466.9 V463.85 M488.84 466.9 V463.85 M511.77 466.9 V463.85 M534.70 466.9 V463.85 M557.63 466.9 V461.50 M580.57 466.9 V463.85 M603.50 466.9 V463.85 M626.43 466.9 V463.85 M649.36 466.9 V463.85 M672.29 466.9 V461.50 M695.22 466.9 V463.85 M718.16 466.9 V463.85 M741.09 466.9 V463.85 M764.02 466.9 V463.85 M786.95 466.9 V461.50 M99.0 466.90 H104.40 M99.0 445.63 H102.05 M99.0 424.36 H102.05 M99.0 403.09 H102.05 M99.0 381.82 H102.05 M99.0 360.55 H104.40 M99.0 339.28 H102.05 M99.0 318.01 H102.05 M99.0 296.74 H102.05 M99.0 275.47 H102.05 M99.0 254.20 H104.40 M99.0 232.93 H102.05 M99.0 211.66 H102.05 M99.0 190.39 H102.05 M99.0 169.12 H102.05 M99.0 147.85 H104.40 M99.0 126.58 H102.05 M99.0 105.31 H102.05 M99.0 84.04 H102.05 M99.0 62.77 H102.05 M99.0 41.50 H104.40" stroke="#141414" stroke-width="1.2" fill="none"/>
<g stroke-width="3.7" fill="none">
<path d="M105.4 53 H149.9" stroke="#ff0000"/>
<path d="M105.4 102.1 H149.9" stroke="#0000ff"/>
<path d="M105.4 151.2 H149.9" stroke="#00ff00"/>
<path d="M105.4 200.3 H149.9" stroke="#000000"/>
</g>
<g font-family="Liberation Sans, sans-serif" font-weight="bold" fill="#000" stroke="#000" stroke-width="0.3" stroke-linejoin="round">
<text transform="translate(99.1,493.4) scale(0.96,1)" font-size="22.6" text-anchor="middle">2</text>
<text transform="translate(213.76,493.4) scale(0.96,1)" font-size="22.6" text-anchor="middle">3</text>
<text transform="translate(328.42,493.4) scale(0.96,1)" font-size="22.6" text-anchor="middle">4</text>
<text transform="translate(443.08,493.4) scale(0.96,1)" font-size="22.6" text-anchor="middle">5</text>
<text transform="translate(557.73,493.4) scale(0.96,1)" font-size="22.6" text-anchor="middle">6</text>
<text transform="translate(672.39,493.4) scale(0.96,1)" font-size="22.6" text-anchor="middle">7</text>
<text transform="translate(787.05,493.4) scale(0.96,1)" font-size="22.6" text-anchor="middle">8</text>
<text transform="translate(91.7,473.9) scale(0.96,1)" font-size="22.6" text-anchor="end">0.000</text>
<text transform="translate(91.7,367.55) scale(0.96,1)" font-size="22.6" text-anchor="end">0.005</text>
<text transform="translate(91.7,261.2) scale(0.96,1)" font-size="22.6" text-anchor="end">0.010</text>
<text transform="translate(91.7,154.85) scale(0.96,1)" font-size="22.6" text-anchor="end">0.015</text>
<text transform="translate(91.7,48.5) scale(0.96,1)" font-size="22.6" text-anchor="end">0.020</text>
<text transform="translate(443,529) scale(0.96,1)" font-size="22.6" text-anchor="middle">r/M</text>
<text transform="translate(443.0,24.1) scale(0.947,1)" font-size="26.2" text-anchor="middle"><tspan font-style="italic" font-size="27">α</tspan><tspan dx="0.7">=−0.6</tspan></text>
<text transform="translate(163.4,61.7) scale(0.963,1)" font-size="26.6" text-anchor="start">g=0</text>
<text transform="translate(163.4,110.8) scale(0.963,1)" font-size="26.6" text-anchor="start">g=0.4</text>
<text transform="translate(163.4,159.89999999999998) scale(0.963,1)" font-size="26.6" text-anchor="start">g=0.6</text>
<text transform="translate(163.4,209.0) scale(0.963,1)" font-size="26.6" text-anchor="start">g=0.8</text>
<text transform="translate(20.2,273.9) rotate(-90)" font-size="22.4" font-style="italic">V</text>
<text transform="translate(25.15,260.35) rotate(-90) scale(1.05,1)" font-size="19.5">eff</text>
</g>
</svg>
</body></html>
